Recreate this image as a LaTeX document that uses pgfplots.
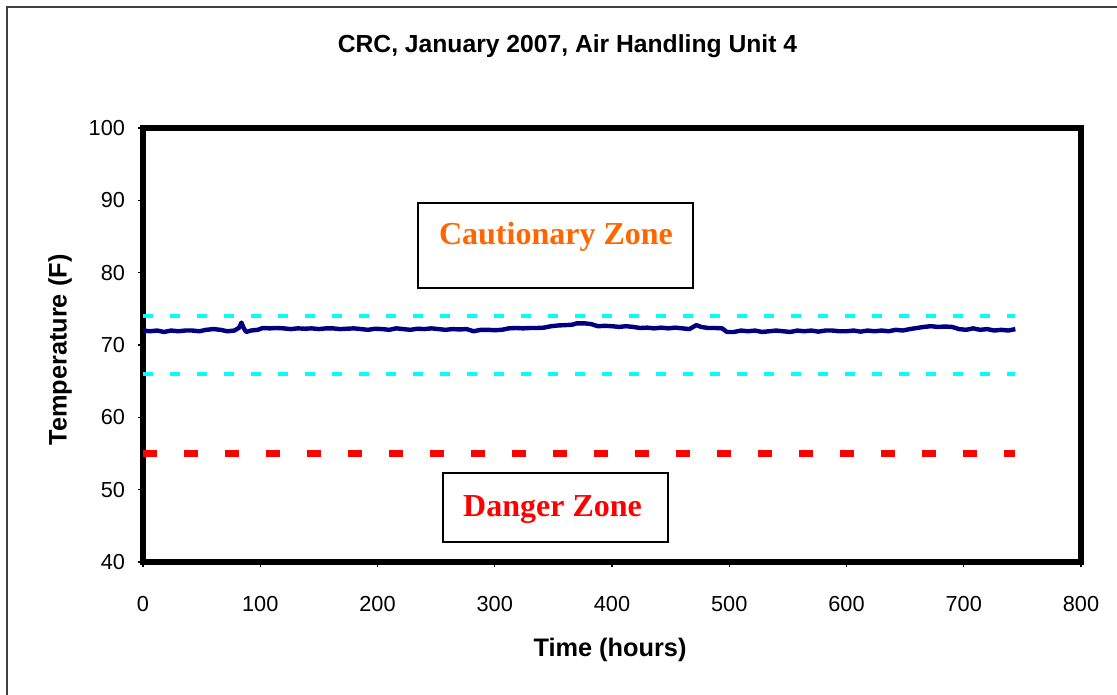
\documentclass[border=0pt]{standalone}
\usepackage{pgfplots}
\pgfplotsset{compat=1.18}
\usepackage{fontspec}
\setmainfont{Liberation Sans}
\newfontfamily\serifb{Liberation Serif}
\definecolor{navyline}{HTML}{000080}
\definecolor{cyanline}{HTML}{00FFFF}
\definecolor{zoneorange}{HTML}{FF6600}
\begin{document}
\begin{tikzpicture}
\begin{axis}[
  at={(107.25pt,99pt)}, anchor=south west,
  scale only axis, width=703.5pt, height=325.5pt,
  xmin=0, xmax=800, ymin=40, ymax=100,
  xtick={0,100,...,800}, ytick={40,50,...,100},
  axis line style={line width=4.5pt, black},
  tick style={black, line width=0.8pt},
  tick align=outside, major tick length=4pt,
  xtick pos=bottom, ytick pos=left,
  /pgf/number format/assume math mode=true,
  tick label style={font=\fontsize{16.3}{19}\selectfont},
  xticklabel style={yshift=-18pt},
  yticklabel style={xshift=-6pt},
  clip=false,
]
\addplot[cyanline, line width=3.4pt, dash pattern=on 7.5pt off 12.75pt] coordinates {(0,74) (744,74)};
\addplot[cyanline, line width=3.4pt, dash pattern=on 7.5pt off 12.75pt] coordinates {(0,66) (744,66)};
\addplot[red, line width=5pt, dash pattern=on 10.5pt off 20.25pt] coordinates {(0,55) (744,55)};
\addplot[navyline, line width=3.3pt, line join=round] table {
x y
0 72.0
6 71.9
12 72.0
18 71.8
24 72.0
30 71.9
36 72.0
42 72.0
48 71.9
54 72.1
60 72.2
66 72.1
72 71.9
78 72.0
82 72.4
84 73.1
86 72.3
88 71.8
92 72.0
98 72.1
102 72.35
108 72.3
114 72.35
120 72.3
126 72.2
132 72.3
138 72.25
144 72.3
150 72.2
156 72.3
162 72.3
168 72.2
174 72.25
180 72.3
186 72.2
192 72.1
198 72.25
204 72.2
210 72.1
216 72.3
222 72.2
228 72.1
234 72.25
240 72.2
246 72.3
252 72.2
258 72.1
264 72.2
270 72.15
276 72.2
282 71.9
288 72.1
294 72.1
300 72.05
306 72.1
312 72.3
318 72.35
324 72.3
330 72.35
336 72.35
342 72.4
348 72.6
354 72.7
360 72.75
366 72.8
370 73.0
376 73.0
382 72.9
388 72.6
394 72.65
400 72.6
406 72.5
412 72.6
418 72.5
424 72.35
430 72.4
436 72.3
442 72.4
448 72.3
454 72.4
460 72.3
466 72.2
472 72.75
476 72.5
482 72.35
488 72.35
494 72.3
498 71.8
504 71.8
510 72.0
516 71.9
522 72.0
528 71.8
534 71.9
540 72.0
546 71.9
552 71.8
558 72.0
564 71.9
570 72.0
576 71.85
582 72.0
588 72.0
594 71.9
600 71.9
606 72.0
612 71.85
618 72.0
624 71.9
630 72.0
636 71.9
642 72.1
648 72.0
654 72.2
660 72.35
666 72.5
672 72.6
678 72.5
684 72.55
690 72.5
696 72.2
702 72.1
708 72.3
714 72.1
720 72.2
726 72.0
732 72.1
738 72.0
744 72.2
};
\draw[black, line width=1.1pt, fill=white] (axis cs:234.5,89.63) rectangle (axis cs:469.1,77.88);
\node[text=zoneorange, font=\serifb\bfseries\fontsize{24}{28}\selectfont] at (axis cs:352.2,84.95) {Cautionary Zone};
\draw[black, line width=1.1pt, fill=white] (axis cs:255.9,52.30) rectangle (axis cs:447.8,42.76);
\node[text=red, font=\serifb\bfseries\fontsize{24}{28}\selectfont] at (axis cs:349.3,47.3) {Danger Zone};
\end{axis}
\node[font=\bfseries\fontsize{18.5}{22}\selectfont] at (425.6pt,486pt) {CRC, January 2007, Air Handling Unit 4};
\node[font=\bfseries\fontsize{19}{23}\selectfont] at (457.5pt,33pt) {Time (hours)};
\node[font=\bfseries\fontsize{19}{23}\selectfont, rotate=90] at (45pt,258pt) {Temperature (F)};
\draw[black!75, line width=1.1pt] (5.25pt,-2pt) -- (5.25pt,515.25pt) -- (840pt,515.25pt);
\pgfresetboundingbox
\useasboundingbox (0,0) rectangle (837.75pt,520.5pt);
\end{tikzpicture}
\end{document}
